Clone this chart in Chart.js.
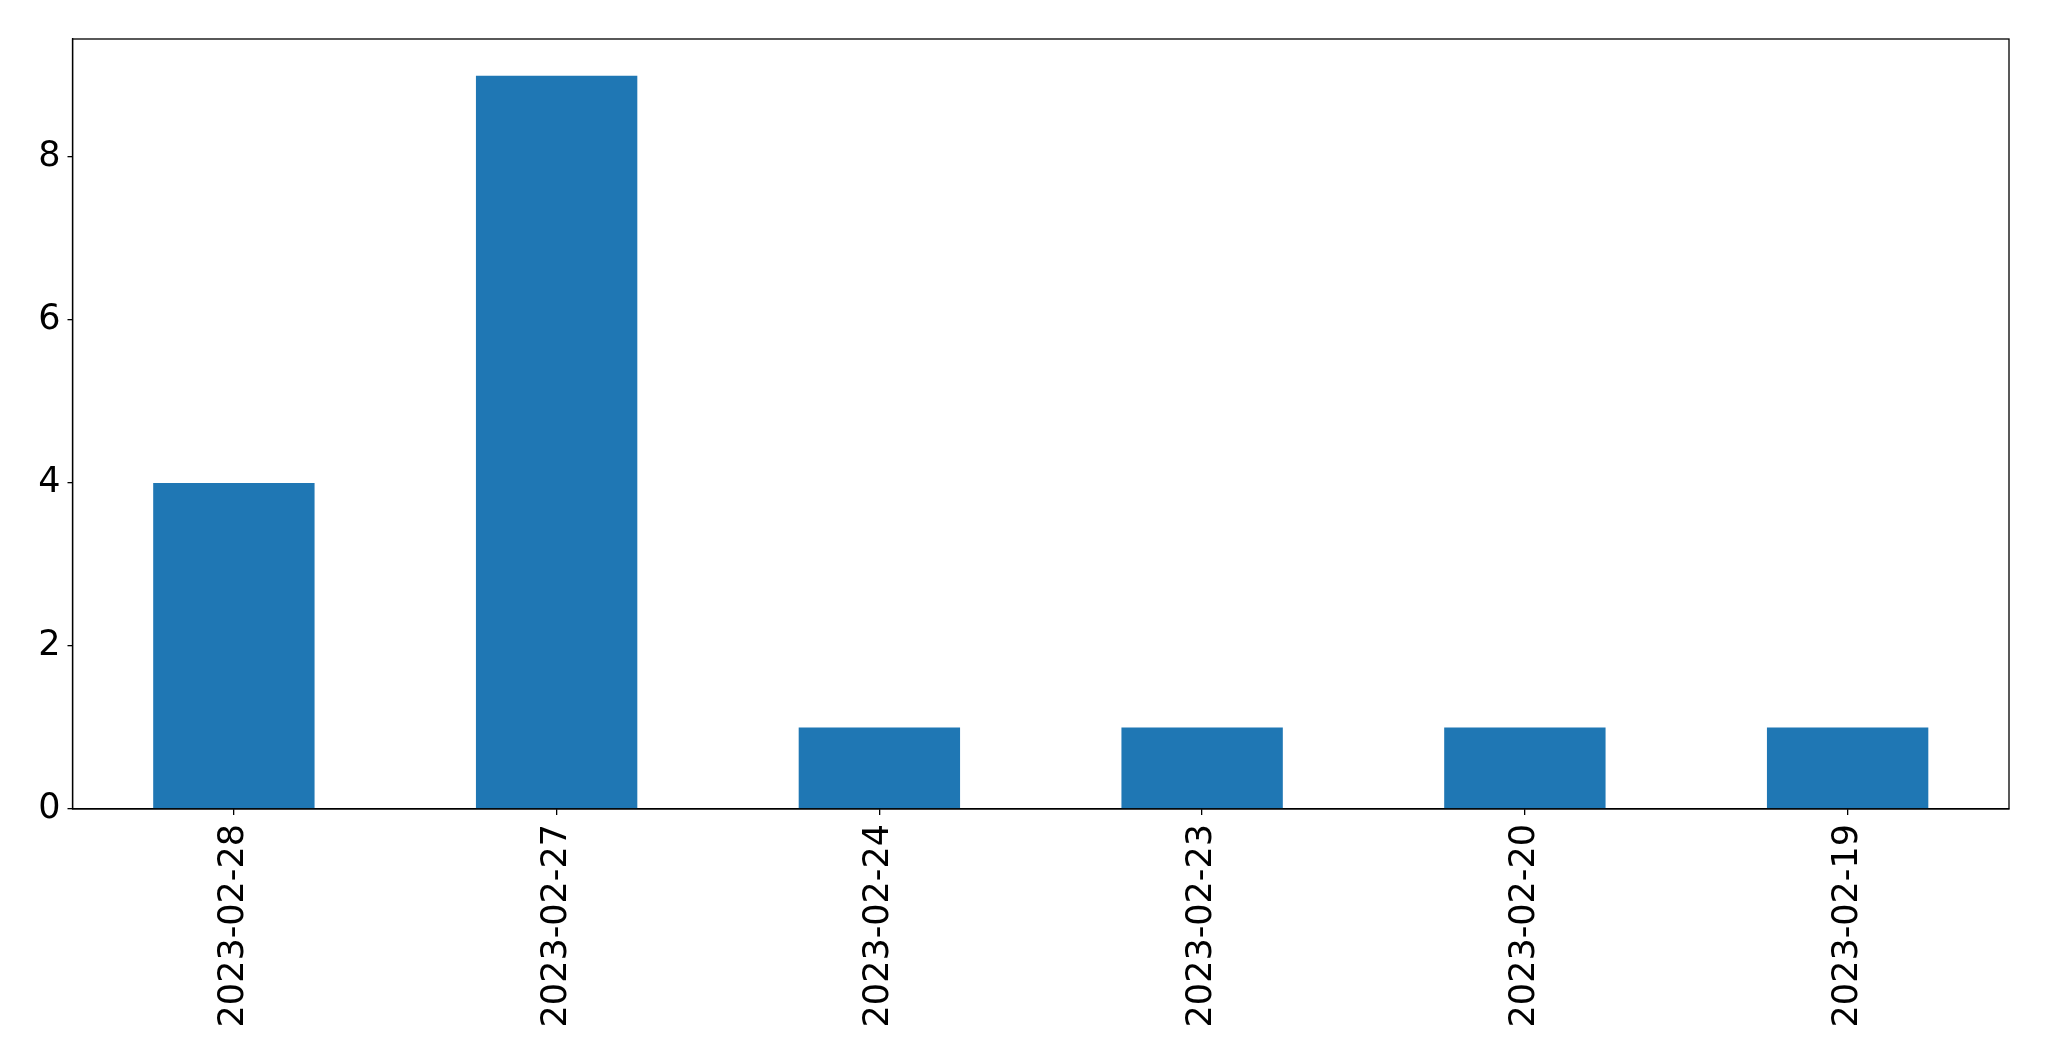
<!DOCTYPE html>
<html>
<head>
<meta charset="utf-8">
<script src="https://cdn.jsdelivr.net/npm/chart.js@4/dist/chart.umd.min.js"></script>
<style>
  html, body { margin: 0; padding: 0; background: #fff; }
  #wrap { width: 2049px; height: 1061px; }
</style>
</head>
<body>
<div id="wrap"><canvas id="chart" width="2049" height="1061"></canvas></div>
<script>
// --- Data ---
const dates = ['2023-02-28', '2023-02-27', '2023-02-24', '2023-02-23', '2023-02-20', '2023-02-19'];
const counts = [4, 9, 1, 1, 1, 1];
const yTicks = [0, 2, 4, 6, 8];
const yMax = 9.45;

const FONT = { family: 'DejaVu Sans', size: 35 };

// matplotlib style box around the plot area
const frame = {
    id: 'frame',
    afterDraw(chart) {
        const { ctx, chartArea: a } = chart;
        ctx.save();
        ctx.strokeStyle = '#000';
        ctx.lineWidth = 1.3;
        ctx.strokeRect(a.left, a.top, a.right - a.left, a.bottom - a.top);
        ctx.restore();
    }
};

new Chart(document.getElementById('chart'), {
    type: 'bar',
    data: {
        labels: dates,
        datasets: [{
            data: counts,
            backgroundColor: '#1f77b4',
            borderWidth: 0,
            categoryPercentage: 1,
            barPercentage: 0.5
        }]
    },
    options: {
        responsive: false,
        animation: false,
        layout: { padding: { top: 39, right: 40, left: 0, bottom: 0 } },
        plugins: { legend: { display: false }, tooltip: { enabled: false } },
        scales: {
            x: {
                offset: true,
                grid: { display: true, offset: false, drawOnChartArea: false, drawTicks: true, tickLength: 6, color: '#000', lineWidth: 1.3 },
                border: { display: true, color: '#000', width: 1.3 },
                ticks: { color: '#000', font: FONT, minRotation: 90, maxRotation: 90, padding: 9, autoSkip: false },
                afterFit(scale) { scale.height = 252; }
            },
            y: {
                min: 0,
                max: yMax,
                grid: { display: true, drawOnChartArea: false, drawTicks: true, tickLength: 5, color: '#000', lineWidth: 1.3 },
                border: { display: true, color: '#000', width: 1.3 },
                ticks: { color: '#000', font: FONT, padding: 7 },
                afterBuildTicks(scale) { scale.ticks = yTicks.map(v => ({ value: v })); },
                afterFit(scale) { scale.width = 72.5; }
            }
        }
    },
    plugins: [frame]
});
</script>
</body>
</html>
